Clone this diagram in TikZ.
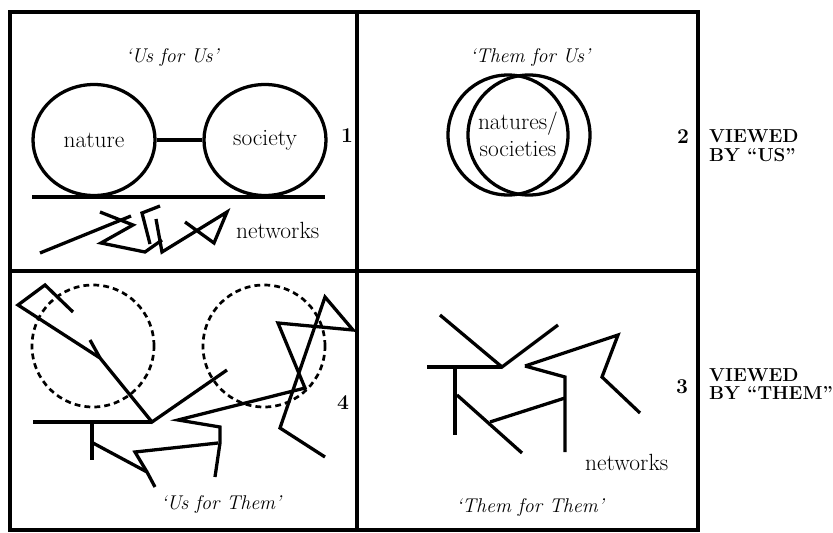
\documentclass[tikz,border=0pt]{standalone}
\usetikzlibrary{positioning, shapes.geometric}

\begin{document}
\begin{tikzpicture}[
        x=0.03cm, y=-0.03cm,
        frame/.style={line width=2.6pt},
        ring/.style={ellipse, draw, line width=2.8pt, minimum width=3.66cm, minimum height=3.33cm, inner sep=0pt, font=\fontsize{20}{24}\selectfont},
        halo/.style={line width=2.8pt},
        ghost/.style={line width=2.3pt, dash pattern=on 5pt off 3.5pt},
        net/.style={line width=2.8pt, line join=miter},
        title/.style={font=\fontsize{17}{20}\selectfont\itshape},
        tag/.style={font=\fontsize{20}{23}\selectfont, align=center, inner sep=0pt},
        num/.style={font=\fontsize{18}{21}\selectfont\bfseries},
        side/.style={font=\fontsize{16}{16}\selectfont\bfseries, align=left, anchor=west, inner sep=0pt}
    ]
        \useasboundingbox (0,0) rectangle (833,533);

        % Frame
        \draw [frame] (10,12) rectangle (698,530);
        \draw [frame] (357,12) -- (357,530);
        \draw [frame] (10,271) -- (698,271);

        % Us for Us
        \node [title] (usus) at (172,58) {‘Us for Us’};
        \node [ring] (nature) at (94,140) {nature};
        \node [ring] (society) at (265,140) {society};
        \draw [halo] (nature) -- (society);
        \draw [halo] (32,197) -- (325,197);
        \draw [net] (40,253) -- (131,216);
        \draw [net] (100,212) -- (133,225) -- (101,243) -- (145,252) -- (162,240);
        \draw [net] (160,206) -- (142,213) -- (150,244);
        \draw [net] (156,219) -- (162,252) -- (227,212) -- (214,243) -- (185,222);
        \node [tag, anchor=west] (netsa) at (236,230) {networks};
        \node [num] (one) at (347,136) {1};

        % Them for Us
        \node [title] (themus) at (530,58) {‘Them for Us’};
        \draw [halo] (508,135) ellipse [x radius=1.8cm, y radius=1.8cm];
        \draw [halo] (529,135) ellipse [x radius=1.83cm, y radius=1.8cm];
        \node [tag] (mixed) at (518,134) {natures/\\societies};
        \node [num] (two) at (683,137) {2};
        \node [side] (byus) at (709,146) {VIEWED\\BY “US”};

        % Us for Them
        \draw [ghost] (93,346) circle [radius=1.83cm];
        \draw [ghost] (264,346) circle [radius=1.83cm];
        \draw [net] (73,312) -- (45,285) -- (18,305) -- (100,358) -- (152,422) -- (227,370);
        \draw [net] (90,340) -- (100,358);
        \draw [net] (33,422) -- (152,422);
        \draw [net] (92,423) -- (92,460);
        \draw [net] (155,487) -- (147,472) -- (93,443);
        \draw [net] (147,472) -- (135,452) -- (218,443);
        \draw [net] (215,477) -- (220,443) -- (220,427) -- (178,420) -- (305,388) -- (278,323)
                    -- (353,330) -- (325,297) -- (280,428) -- (325,457);
        \node [title] (usthem) at (221,505) {‘Us for Them’};
        \node [num] (four) at (343,403) {4};

        % Them for Them
        \draw [net] (440,315) -- (502,367) -- (558,325);
        \draw [net] (427,367) -- (502,367);
        \draw [net] (455,367) -- (455,435);
        \draw [net] (457,395) -- (522,453);
        \draw [net] (490,422) -- (565,398);
        \draw [net] (525,366) -- (565,377) -- (565,452);
        \draw [net] (525,366) -- (618,335) -- (602,377) -- (640,413);
        \node [tag, anchor=west] (netsb) at (585,462) {networks};
        \node [title] (themthem) at (530,508) {‘Them for Them’};
        \node [num] (three) at (682,387) {3};
        \node [side] (bythem) at (709,384) {VIEWED\\BY “THEM”};

    \end{tikzpicture}
\end{document}
